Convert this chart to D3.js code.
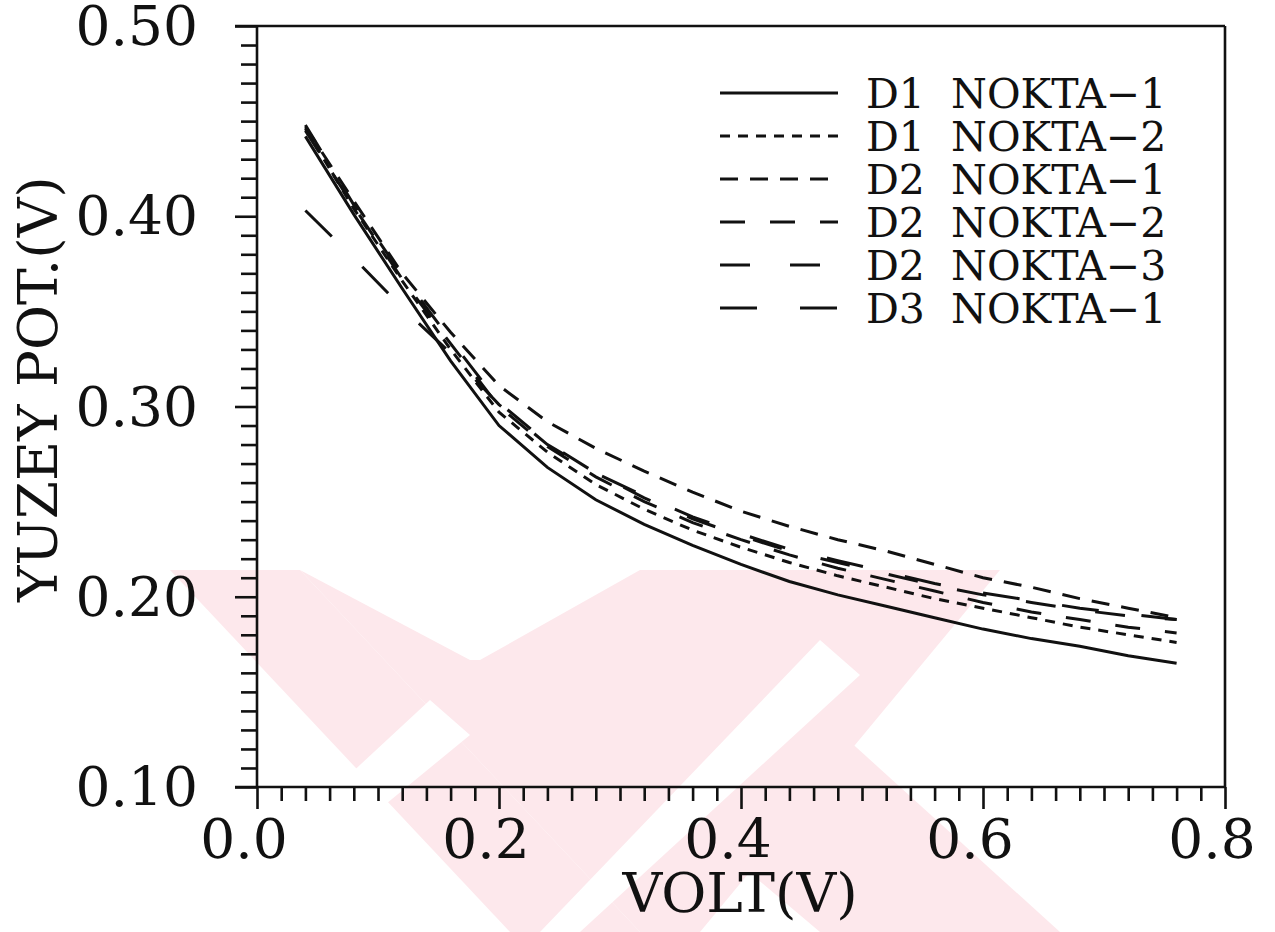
<!DOCTYPE html>
<html>
<head>
<meta charset="utf-8">
<script src="https://cdn.jsdelivr.net/npm/d3@7"></script>
<style>
  html, body { margin: 0; padding: 0; background: #ffffff; }
  svg { display: block; }
  text { white-space: pre; }
</style>
</head>
<body>
<svg id="chart" width="1275" height="932"></svg>
<script>
// Applied voltage (V)
const volts = [0.04, 0.08, 0.12, 0.16, 0.20, 0.24, 0.28, 0.32, 0.36, 0.40,
               0.44, 0.48, 0.52, 0.56, 0.60, 0.64, 0.68, 0.72, 0.76];

// Surface potential (V) per diode / measurement point
const d1Nokta1 = [0.442, 0.401, 0.362, 0.324, 0.290, 0.268, 0.251, 0.238, 0.227, 0.217,
                  0.208, 0.201, 0.195, 0.189, 0.183, 0.178, 0.174, 0.169, 0.165];
const d1Nokta2 = [0.446, 0.404, 0.366, 0.330, 0.297, 0.276, 0.259, 0.246, 0.235, 0.226,
                  0.218, 0.211, 0.205, 0.199, 0.194, 0.189, 0.184, 0.180, 0.176];
const d2Nokta1 = [0.447, 0.408, 0.370, 0.339, 0.311, 0.292, 0.278, 0.266, 0.255, 0.245,
                  0.237, 0.230, 0.224, 0.217, 0.210, 0.205, 0.199, 0.194, 0.189];
const d2Nokta2 = [0.445, 0.405, 0.367, 0.333, 0.300, 0.279, 0.263, 0.250, 0.239, 0.230,
                  0.222, 0.215, 0.209, 0.203, 0.197, 0.192, 0.188, 0.184, 0.181];
const d2Nokta3 = [0.448, 0.406, 0.369, 0.335, 0.302, 0.281, 0.265, 0.252, 0.241, 0.232,
                  0.224, 0.218, 0.212, 0.206, 0.201, 0.197, 0.193, 0.190, 0.188];
const d3Nokta1 = [0.403, 0.378, 0.352, 0.328, 0.301, 0.280, 0.265, 0.253, 0.242, 0.233,
                  0.225, 0.219, 0.213, 0.207, 0.202, 0.198, 0.194, 0.191, 0.188];

const seriesNames = ["D1  NOKTA\u22121", "D1  NOKTA\u22122", "D2  NOKTA\u22121",
                     "D2  NOKTA\u22122", "D2  NOKTA\u22123", "D3  NOKTA\u22121"];
const seriesValues = [d1Nokta1, d1Nokta2, d2Nokta1, d2Nokta2, d2Nokta3, d3Nokta1];
const dashPatterns = [null, "10,8", "18,12", "25,25", "30,40", "37,43"];

const xTicks = [0.0, 0.2, 0.4, 0.6, 0.8];
const xTickLabels = ["0.0", "0.2", "0.4", "0.6", "0.8"];
const yTicks = [0.10, 0.20, 0.30, 0.40, 0.50];
const yTickLabels = ["0.10", "0.20", "0.30", "0.40", "0.50"];

const svg = d3.select("#chart");
const FONT = "'DejaVu Serif', 'Liberation Serif', serif";
const ink = "#111111";

// Faint background emblem (pink chevrons)
const emblem = svg.append("g").attr("fill", "#fde8ec");
[
  [[170,570],[300,570],[640,932],[510,932]],
  [[300,570],[1000,570],[700,932],[640,932]],
  [[760,660],[1060,932],[820,932],[640,780]]
].forEach(p => emblem.append("polygon").attr("points", p.map(q => q.join(",")).join(" ")));
const gaps = svg.append("g").attr("fill", "#ffffff");
[
  [[300,570],[640,570],[480,660],[470,660]],
  [[430,700],[470,735],[230,932],[180,932]],
  [[820,640],[860,675],[580,932],[540,932]]
].forEach(p => gaps.append("polygon").attr("points", p.map(q => q.join(",")).join(" ")));

const x = d3.scaleLinear().domain([0, 0.8]).range([257, 1225]);
const y = d3.scaleLinear().domain([0.1, 0.5]).range([787, 26]);

// Frame: top and right edges
svg.append("line").attr("x1", 235).attr("x2", x(0.8)).attr("y1", y(0.5)).attr("y2", y(0.5))
  .attr("stroke", ink).attr("stroke-width", 2.6);
svg.append("line").attr("x1", x(0.8)).attr("x2", x(0.8)).attr("y1", y(0.5)).attr("y2", y(0.1))
  .attr("stroke", ink).attr("stroke-width", 2.6);

// Left axis: minor ticks every 0.01, longer at the labelled values
const yMinor = d3.range(10, 51).map(v => v / 100);
const gy = svg.append("g").attr("transform", `translate(${x(0)},0)`)
  .call(d3.axisLeft(y).tickValues(yMinor).tickFormat("").tickSize(16).tickSizeOuter(0));
gy.select(".domain").remove();
gy.selectAll(".tick line")
  .attr("x2", d => yTicks.some(t => Math.abs(t - d) < 1e-9) ? -22 : -16)
  .attr("stroke", ink).attr("stroke-width", 2.6);

// Bottom axis: minor ticks every 0.02 hanging below the axis
const xMinor = d3.range(0, 41).map(v => v / 50);
const gx = svg.append("g").attr("transform", `translate(0,${y(0.1)})`)
  .call(d3.axisBottom(x).tickValues(xMinor).tickFormat("").tickSize(14).tickSizeOuter(0));
gx.select(".domain").remove();
gx.selectAll(".tick line")
  .attr("y2", d => xTicks.some(t => Math.abs(t - d) < 1e-9) ? 22 : 14)
  .attr("stroke", ink).attr("stroke-width", 2.6);

// Axis lines
svg.append("line").attr("x1", 235).attr("x2", x(0.8)).attr("y1", y(0.1)).attr("y2", y(0.1))
  .attr("stroke", ink).attr("stroke-width", 2.6);
svg.append("line").attr("x1", x(0)).attr("x2", x(0)).attr("y1", y(0.5)).attr("y2", y(0.1))
  .attr("stroke", ink).attr("stroke-width", 2.6);

// Tick labels
svg.append("g").selectAll("text").data(yTicks).join("text")
  .attr("x", 198).attr("y", d => y(d) + 19)
  .attr("text-anchor", "end")
  .attr("font-family", FONT).attr("font-size", 55).attr("fill", ink)
  .text((d, i) => yTickLabels[i]);

svg.append("g").selectAll("text").data(xTicks).join("text")
  .attr("x", d => x(d) - 13).attr("y", 858)
  .attr("text-anchor", "middle")
  .attr("font-family", FONT).attr("font-size", 55).attr("fill", ink)
  .text((d, i) => xTickLabels[i]);

// Axis titles
svg.append("text").attr("x", 740).attr("y", 912).attr("text-anchor", "middle")
  .attr("font-family", FONT).attr("font-size", 55).attr("fill", ink)
  .text("VOLT(V)");
svg.append("text")
  .attr("transform", "translate(57,389) rotate(-90)")
  .attr("text-anchor", "middle")
  .attr("font-family", FONT).attr("font-size", 55).attr("fill", ink)
  .text("YUZEY POT.(V)");

// Curves
const line = d3.line().x((d, i) => x(volts[i])).y(d => y(d));
svg.append("g").selectAll("path").data(seriesValues).join("path")
  .attr("d", d => line(d))
  .attr("fill", "none").attr("stroke", ink).attr("stroke-width", 3)
  .attr("stroke-dasharray", (d, i) => dashPatterns[i]);

// Legend
const legend = svg.append("g");
seriesNames.forEach((name, i) => {
  const by = 108 + i * 43;
  legend.append("line").attr("x1", 720).attr("x2", 838)
    .attr("y1", by - 15).attr("y2", by - 15)
    .attr("stroke", ink).attr("stroke-width", 3)
    .attr("stroke-dasharray", dashPatterns[i]);
  legend.append("text").attr("x", 866).attr("y", by)
    .attr("font-family", FONT).attr("font-size", 41).attr("fill", ink)
    .text(name);
});
</script>
</body>
</html>
